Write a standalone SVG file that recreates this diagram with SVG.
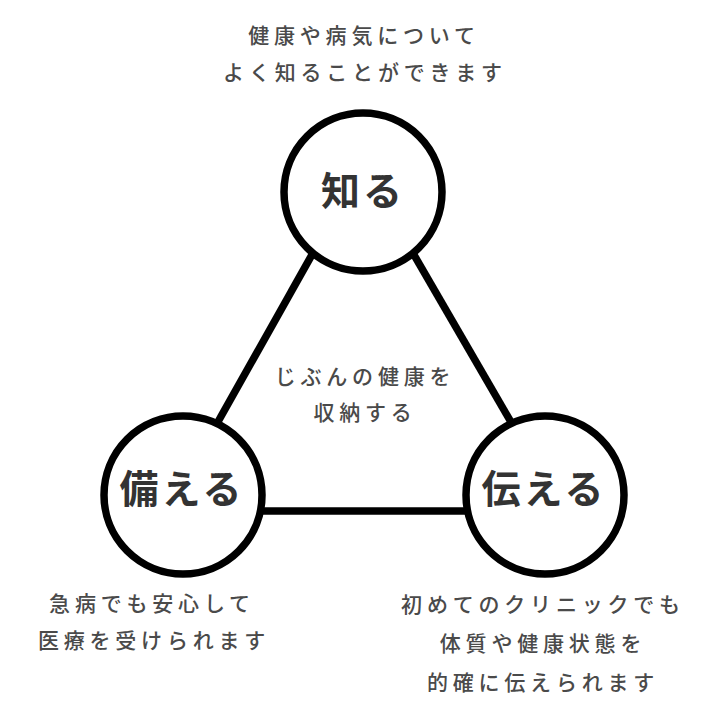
<svg xmlns="http://www.w3.org/2000/svg" width="717" height="717" viewBox="0 0 717 717">
<style>
.bg{fill:#ffffff}
.edge{stroke:#000;stroke-width:7.5;fill:none}
.ring{fill:#fff;stroke:#000;stroke-width:7.5}
.label{font-family:"Noto Sans CJK JP","Noto Sans",sans-serif;font-weight:700;font-size:39px;fill:#333;text-anchor:middle;letter-spacing:3px}
.note{font-family:"Noto Sans CJK JP","Noto Sans",sans-serif;font-weight:500;font-size:21px;fill:#4a4a4a;text-anchor:middle;letter-spacing:4.8px}
</style>
<rect class="bg" x="0" y="0" width="717" height="717"/>
<g id="connectors">
<line class="edge" x1="318" y1="244" x2="210" y2="436"/>
<line class="edge" x1="410" y1="248" x2="515" y2="429"/>
<line class="edge" x1="255" y1="511" x2="470" y2="511"/>
</g>
<g id="center-text">
<text class="note" x="365" y="384">じぶんの健康を</text>
<text class="note" x="365" y="420">収納する</text>
</g>
<g id="node-shiru">
<circle class="ring" cx="363" cy="192" r="79"/>
<text class="label" x="363" y="205">知る</text>
</g>
<g id="node-sonaeru">
<circle class="ring" cx="183" cy="495" r="79"/>
<text class="label" x="182" y="503">備える</text>
</g>
<g id="node-tsutaeru">
<circle class="ring" cx="545" cy="495" r="79"/>
<text class="label" x="544" y="503">伝える</text>
</g>
<g id="note-top">
<text class="note" x="364" y="43">健康や病気について</text>
<text class="note" x="365" y="80">よく知ることができます</text>
</g>
<g id="note-left">
<text class="note" x="152" y="611">急病でも安心して</text>
<text class="note" x="154" y="648">医療を受けられます</text>
</g>
<g id="note-right">
<text class="note" x="543" y="612">初めてのクリニックでも</text>
<text class="note" x="543" y="651">体質や健康状態を</text>
<text class="note" x="543" y="690">的確に伝えられます</text>
</g>
</svg>
